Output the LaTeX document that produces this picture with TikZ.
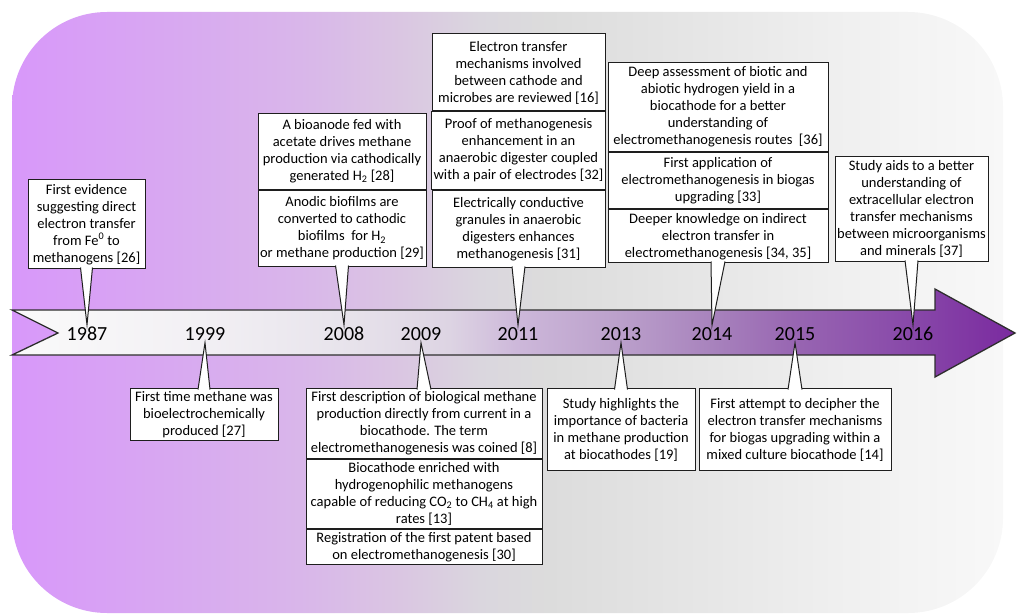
\documentclass[tikz,border=0pt]{standalone}
\usepackage{fontspec}
\setmainfont{Carlito}
\usetikzlibrary{positioning,calc}

\definecolor{boxline}{HTML}{1E1E1E}
\definecolor{bandline}{HTML}{2E2E2E}
\definecolor{bandA}{HTML}{FAFAFA}
\definecolor{bandB}{HTML}{F2F0F4}
\definecolor{bandC}{HTML}{E8E4EC}
\definecolor{bandD}{HTML}{DDD4E3}
\definecolor{bandE}{HTML}{CDB8DA}
\definecolor{bandF}{HTML}{BBA0CB}
\definecolor{bandG}{HTML}{A883BD}
\definecolor{bandH}{HTML}{9866B2}
\definecolor{bandI}{HTML}{8848A9}
\definecolor{bandJ}{HTML}{7A2A9F}
\definecolor{bgA}{HTML}{D898FA}
\definecolor{bgB}{HTML}{D8A6F2}
\definecolor{bgC}{HTML}{D9B6EA}
\definecolor{bgD}{HTML}{DAC6E2}
\definecolor{bgE}{HTML}{DAD6DE}
\definecolor{bgF}{HTML}{DCDCDC}
\definecolor{bgG}{HTML}{E6E6E6}
\definecolor{bgH}{HTML}{F0F0F0}
\definecolor{bgI}{HTML}{F8F8F8}

\pgfdeclarehorizontalshading{bandshade}{100bp}{color(0bp)=(bandA); color(25bp)=(bandA);
  color(34.35bp)=(bandB); color(41.3bp)=(bandC); color(46.8bp)=(bandD); color(50.15bp)=(bandE);
  color(55.25bp)=(bandF); color(59.85bp)=(bandG); color(63.95bp)=(bandH); color(69.85bp)=(bandI);
  color(75bp)=(bandJ); color(100bp)=(bandJ)}
\pgfdeclarehorizontalshading{bgshade}{100bp}{color(0bp)=(bgA); color(25bp)=(bgA);
  color(31.96bp)=(bgB); color(39.5bp)=(bgC); color(44.6bp)=(bgD); color(48.6bp)=(bgE);
  color(52.1bp)=(bgF); color(59.7bp)=(bgG); color(67.3bp)=(bgH); color(75bp)=(bgI); color(100bp)=(bgI)}

\tikzset{
  evbox/.style={draw=boxline, line width=1pt, fill=white, align=center, inner xsep=2pt,
    inner ysep=4pt, minimum width=#1, font=\fontsize{14.5}{17}\selectfont},
  yearlab/.style={inner sep=2pt, font=\fontsize{20}{24}\selectfont},
  ptr/.style={fill=white, draw=boxline, line width=1pt},
}

\begin{document}
\begin{tikzpicture}[x=1pt,y=-1pt]
\useasboundingbox (0,0) rectangle (1017,615);
% background panel
\shade[shading=bgshade, rounded corners=95pt] (12,12) rectangle (1003,613);
% time arrow
\shadedraw[shading=bandshade, draw=bandline, line width=1.3pt] (12,310) -- (935,310) -- (935,289) -- (1015,333) -- (935,377) -- (935,355) -- (12,355) -- (58,333) -- cycle;

\node[yearlab] (y1987) at (87,334) {1987};
\node[yearlab] (y1999) at (205,334) {1999};
\node[yearlab] (y2008) at (344,334) {2008};
\node[yearlab] (y2009) at (421,334) {2009};
\node[yearlab] (y2011) at (518,334) {2011};
\node[yearlab] (y2013) at (621,334) {2013};
\node[yearlab] (y2014) at (712,334) {2014};
\node[yearlab] (y2015) at (795,334) {2015};
\node[yearlab] (y2016) at (913,334) {2016};

% events above the arrow
\node[evbox=117, anchor=south] (ev87) at (86.5,269) {First evidence\\suggesting direct\\electron transfer\\from Fe\textsuperscript{0} to\\methanogens [26]};
\node[evbox=168, anchor=south, minimum height=76] (ev08b) at (342,267) {Anodic biofilms are\\converted to cathodic\\biofilms\ \ for H\textsubscript{2}\\or methane production [29]};
\node[evbox=168, above=0pt of ev08b, minimum height=76] (ev08a) {A bioanode fed with\\acetate drives methane\\production via cathodically\\generated H\textsubscript{2} [28]};
\node[evbox=173, anchor=south, minimum height=77.5] (ev11c) at (518.5,268) {Electrically conductive\\granules in anaerobic\\digesters enhances\\methanogenesis [31]};
\node[evbox=173, above=0pt of ev11c, minimum height=77] (ev11b) {Proof of methanogenesis\\enhancement in an\\anaerobic digester coupled\\with a pair of electrodes [32]};
\node[evbox=173, above=0pt of ev11b, minimum height=77] (ev11a) {Electron transfer\\mechanisms involved\\between cathode and\\microbes are reviewed [16]};
\node[evbox=220, anchor=south, inner ysep=3pt] (ev14c) at (718,263) {Deeper knowledge on indirect\\electron transfer in\\electromethanogenesis [34, 35]};
\node[evbox=220, above=0pt of ev14c, inner ysep=5pt] (ev14b) {First application of\\electromethanogenesis in biogas\\upgrading [33]};
\node[evbox=220, above=0pt of ev14b] (ev14a) {Deep assessment of biotic and\\abiotic hydrogen yield in a\\biocathode for a better\\understanding of\\electromethanogenesis routes\ \ [36]};
\node[evbox=153, anchor=south] (ev16) at (911.5,262) {Study aids to a better\\understanding of\\extracellular electron\\transfer mechanisms\\between microorganisms\\and minerals [37]};

% events below the arrow
\node[evbox=148, anchor=north, inner ysep=3pt] (ev99) at (204,388) {First time methane was\\bioelectrochemically\\produced [27]};
\node[evbox=236, anchor=north, inner ysep=3pt] (ev09a) at (424,388) {First description of biological methane\\production directly from current in a\\biocathode. The term\\electromethanogenesis was coined [8]};
\node[evbox=236, below=0pt of ev09a, inner ysep=3pt] (ev09b) {Biocathode enriched with\\hydrogenophilic methanogens\\capable of reducing CO\textsubscript{2} to CH\textsubscript{4} at high\\rates [13]};
\node[evbox=236, below=0pt of ev09b, inner ysep=3pt] (ev09c) {Registration of the first patent based\\on electromethanogenesis [30]};
\node[evbox=148, anchor=north, minimum height=82] (ev13) at (621,388) {Study highlights the\\importance of bacteria\\in methane production\\at biocathodes [19]};
\node[evbox=192, anchor=north, minimum height=82] (ev15) at (795,388) {First attempt to decipher the\\electron transfer mechanisms\\for biogas upgrading within a\\mixed culture biocathode [14]};

% callout pointers
\filldraw[ptr] ($(ev87.south)+(-6,-1.5)$) -- (y1987.north) -- ($(ev87.south)+(6,-1.5)$);
\filldraw[ptr] ($(ev08b.south)+(-6.5,-1.5)$) -- (y2008.north) -- ($(ev08b.south)+(6.5,-1.5)$);
\filldraw[ptr] ($(ev11c.south)+(-6.5,-1.5)$) -- (y2011.north) -- ($(ev11c.south)+(6.5,-1.5)$);
\filldraw[ptr] ($(ev14c.south)+(-7,-1.5)$) -- (y2014.north) -- ($(ev14c.south)+(7,-1.5)$);
\filldraw[ptr] ($(ev16.south)+(-6.5,-1.5)$) -- (y2016.north) -- ($(ev16.south)+(6.5,-1.5)$);
\filldraw[ptr] ($(ev99.north)+(-6,1.5)$) -- (y1999.south) -- ($(ev99.north)+(6,1.5)$);
\filldraw[ptr] ($(ev09a.north)+(-7,1.5)$) -- (y2009.south) -- ($(ev09a.north)+(7,1.5)$);
\filldraw[ptr] ($(ev13.north)+(-6.5,1.5)$) -- (y2013.south) -- ($(ev13.north)+(6.5,1.5)$);
\filldraw[ptr] ($(ev15.north)+(-7,1.5)$) -- (y2015.south) -- ($(ev15.north)+(7,1.5)$);
\end{tikzpicture}
\end{document}
